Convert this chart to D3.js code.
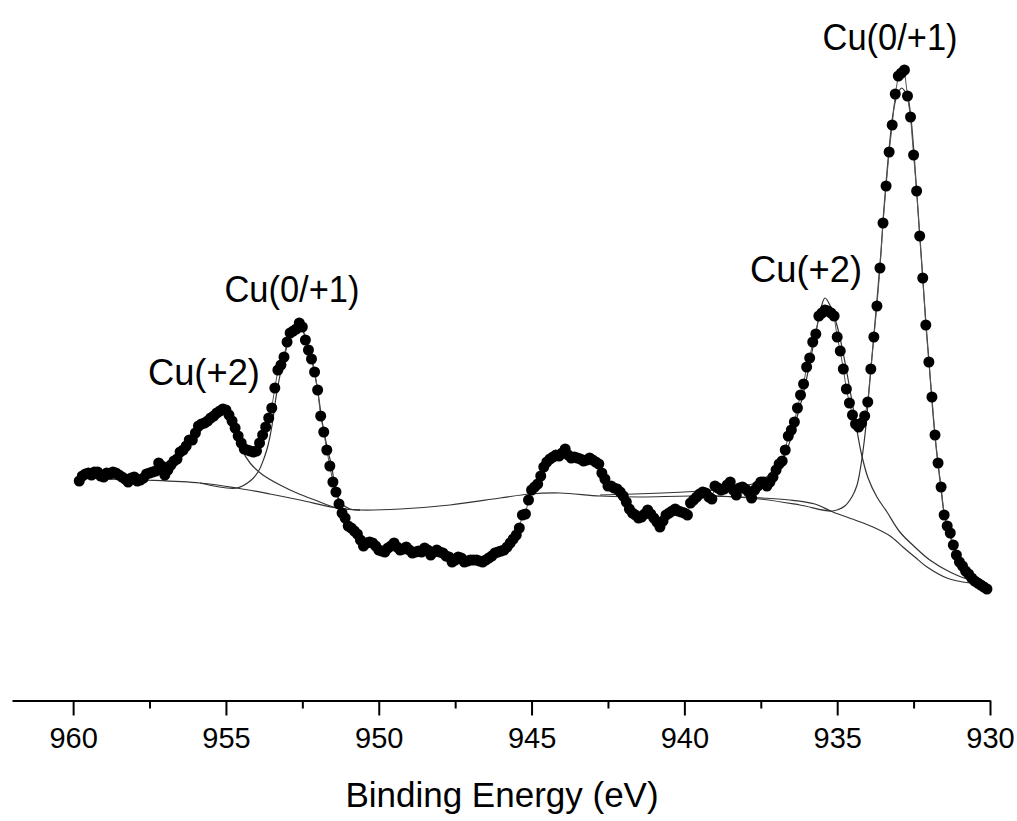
<!DOCTYPE html>
<html>
<head>
<meta charset="utf-8">
<script src="https://cdn.jsdelivr.net/npm/d3@7"></script>
<style>
  body { margin: 0; background: #fff; }
  svg { display: block; font-family: "Liberation Sans", Arial, sans-serif; }
</style>
</head>
<body>
<svg width="1017" height="821"></svg>
<script>
// Cu 2p XPS spectrum (intensity in arbitrary units)

// measured points: 959.8 eV down to 930.1 eV, 0.1 eV step
const energyStart = 959.8;
const energyStep = 0.1;
const intensity = [
  119,124,126,127,125,128,128,124,123,127, 126,128,127,125,123,121,118,122,123,119,
  120,122,126,127,128,129,137,134,125,130, 135,139,141,148,150,154,160,160,167,174,
  176,177,179,182,184,187,189,191,190,185, 179,172,164,157,151,150,149,148,149,157,
  165,173,182,192,212,230,235,243,258,267, 269,271,277,273,260,250,241,228,210,184,
  168,150,134,118,108,96,87,82,74,72, 69,66,60,54,57,58,57,54,50,49,
  48,52,54,57,53,50,51,53,50,47, 48,49,48,52,50,45,48,50,48,47,
  44,43,38,40,43,42,38,39,40,40, 40,39,38,40,42,44,47,48,49,50,
  53,57,61,65,72,85,86,100,110,113, 116,124,133,138,141,143,145,144,147,151,
  145,142,143,142,141,139,140,142,140,138, 136,127,121,114,114,112,111,108,104,98,
  91,87,85,82,83,86,90,86,82,78, 73,79,85,87,89,91,89,88,87,85,
  97,100,103,106,108,107,103,101,114,112, 110,111,115,118,110,105,112,113,111,108,
  102,110,114,118,118,114,118,123,130,136, 139,150,164,170,178,192,205,216,233,242,
  258,266,284,287,290,289,287,284,263,249, 231,211,197,185,176,173,177,184,198,231,
  263,294,332,377,414,448,475,506,524,527, 530,504,483,445,409,364,322,275,238,203,
  165,137,113,85,74,67,55,45,38,34, 29,26,22,19,17,15,13,11
];

// Shirley background
const bgE = [959.81,957.71,955.85,954.64,953.56,952.58,951.36,950.61,949.30,947.67,946.03,945.05,944.07,942.76,
  941.45,939.82,938.18,936.55,935.73,935.14,934.42,933.83,933.27,932.85,932.46,932.06,931.41,930.66,930.10];
const bgI = [122,120,117,112,106,100,92,90,91,95,102,106,107,104,
  103,104,103,100,96,88,80,73,64,53,43,33,22,17,16];

// Cu(+2) 2p1/2 component
const c1E = [959.12,957.71,957.15,956.67,956.17,955.85,955.52,955.29,955.09,954.90,954.70,954.47,954.21,953.79,
  953.23,952.68,952.09,951.36,950.61];
const c1I = [121,122,126,137,155,168,181,190,194,190,176,150,137,125,
  115,107,100,92,90];

// Cu(0/+1) 2p1/2 component
const c2E = [955.85,954.64,954.21,953.95,953.75,953.62,953.49,953.36,953.23,953.10,952.97,952.81,952.64,952.48,
  952.31,952.15,951.99,951.86,951.69,951.53,951.43,951.23,950.94,950.61];
const c2I = [117,112,119,128,142,155,175,203,225,242,257,268,274,269,
  254,235,208,180,153,132,112,97,91,90];

// Cu(+2) 2p3/2 component
const c3E = [942.76,939.49,938.18,937.53,937.04,936.71,936.39,936.12,935.89,935.70,935.53,935.40,935.24,935.01,
  934.81,934.61,934.42,934.22,933.99,933.70,933.37,932.95,932.46,931.97,931.31,930.66,930.10];
const c3I = [105,109,113,119,130,145,175,205,238,267,292,302,295,275,
  248,215,182,148,122,103,88,68,53,40,28,20,17];

// Cu(0/+1) 2p3/2 component
const c4E = [939.49,937.53,936.22,935.14,934.75,934.52,934.36,934.26,934.16,934.06,933.97,933.87,933.77,933.67,
  933.57,933.48,933.38,933.28,933.18,933.08,932.98,932.89,932.79,932.69,932.59,932.49,932.40,932.30,
  932.20,932.10,932.00,931.91,931.81,931.71,931.61,931.51,931.41,931.32,931.15,930.96,930.73,930.47,930.11];
const c4I = [105,101,95,89,94,103,114,128,148,174,205,240,275,310,
  347,388,425,458,485,501,509,512,509,503,483,448,409,366,
  322,278,240,203,167,138,113,88,74,65,50,38,29,22,17];

const xTicks = [960, 955, 950, 945, 940, 935, 930];
const xMinor = [957.5, 952.5, 947.5, 942.5, 937.5, 932.5];

const peakLabels = ["Cu(+2)", "Cu(0/+1)", "Cu(+2)", "Cu(0/+1)"];
const peakLabelE = [955.72, 952.84, 936.02, 933.27];

const svg = d3.select('svg');

const x = d3.scaleLinear().domain([962, 930]).range([12, 990]);
const y = d3.scaleLinear().domain([0, 600]).range([600, 0]);

const points = intensity.map((v, i) => ({ e: energyStart - i * energyStep, v: v }));

const smooth = d3.line()
  .x(d => x(d[0]))
  .y(d => y(d[1]))
  .curve(d3.curveCatmullRom.alpha(0.5));

// fitted curves
const curves = [[bgE, bgI], [c1E, c1I], [c2E, c2I], [c3E, c3I], [c4E, c4I]];
svg.append('g').selectAll('path')
  .data(curves)
  .enter()
  .append('path')
  .attr('d', c => smooth(c[0].map((e, i) => [e, c[1][i]])))
  .attr('fill', 'none')
  .attr('stroke', '#333')
  .attr('stroke-width', 1.2);

// line through the measured points
svg.append('path')
  .attr('d', d3.line().x(d => x(d.e)).y(d => y(d.v))(points))
  .attr('fill', 'none')
  .attr('stroke', '#555')
  .attr('stroke-width', 1);

svg.append('g').selectAll('circle')
  .data(points)
  .enter()
  .append('circle')
  .attr('cx', d => x(d.e))
  .attr('cy', d => y(d.v))
  .attr('r', 5.5)
  .attr('fill', '#000');

// x axis
const axisY = 700.5;
const gAxis = svg.append('g')
  .attr('transform', `translate(0,${axisY})`)
  .call(d3.axisBottom(x).tickValues(xTicks).tickSize(15).tickSizeOuter(0).tickFormat(d3.format('d')));
gAxis.select('.domain').attr('stroke', '#000').attr('stroke-width', 2);
gAxis.selectAll('.tick line').attr('stroke', '#000').attr('stroke-width', 2);
gAxis.selectAll('.tick text')
  .attr('y', 47).attr('dy', 0)
  .attr('font-size', 29)
  .attr('font-family', '"Liberation Sans", Arial, sans-serif')
  .attr('fill', '#000');

const gMinor = svg.append('g')
  .attr('transform', `translate(0,${axisY})`)
  .call(d3.axisBottom(x).tickValues(xMinor).tickSize(8).tickSizeOuter(0).tickFormat(''));
gMinor.select('.domain').remove();
gMinor.selectAll('.tick line').attr('stroke', '#000').attr('stroke-width', 2);

svg.append('text')
  .attr('x', 502).attr('y', 807)
  .attr('text-anchor', 'middle')
  .attr('font-size', 35)
  .text('Binding Energy (eV)');

// peak labels
const labelY = [385, 302, 282, 50];
const labelLen = [112, 135, 112, 135];
svg.append('g').selectAll('text')
  .data(peakLabels)
  .enter()
  .append('text')
  .attr('x', (d, i) => x(peakLabelE[i]))
  .attr('y', (d, i) => labelY[i])
  .attr('text-anchor', 'middle')
  .attr('font-size', 37)
  .attr('textLength', (d, i) => labelLen[i])
  .attr('lengthAdjust', 'spacingAndGlyphs')
  .text(d => d);
</script>
</body>
</html>
